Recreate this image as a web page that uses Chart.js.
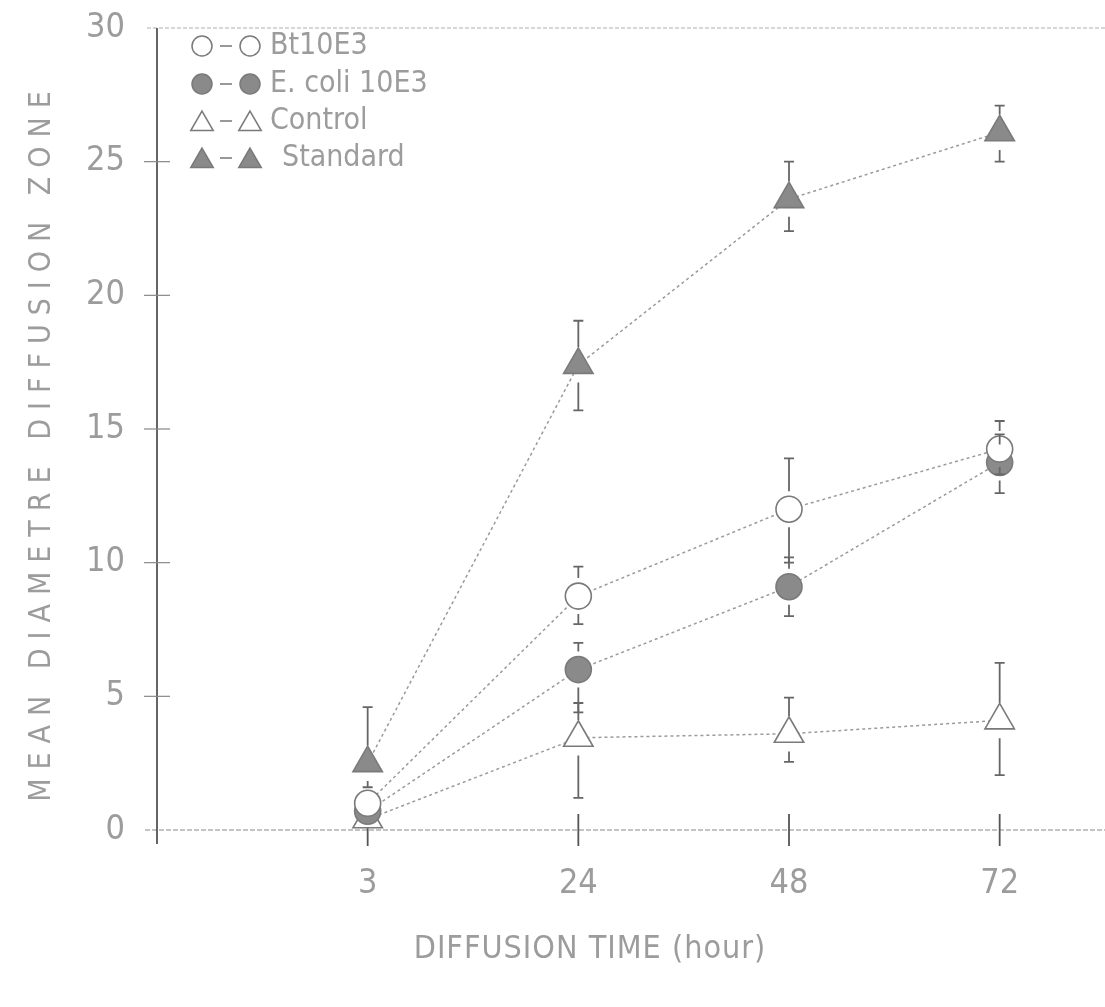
<!DOCTYPE html>
<html>
<head>
<meta charset="utf-8">
<script src="https://cdn.jsdelivr.net/npm/chart.js@4.4.1/dist/chart.umd.min.js"></script>
<style>
  html, body { margin: 0; padding: 0; background: #fff; }
  #wrap { width: 1105px; height: 1007px; }
</style>
</head>
<body>
<div id="wrap"><canvas id="diffusionChart" width="1105" height="1007"></canvas></div>
<script>
// diffusion times (hours), plotted at evenly spaced positions 1..4
const hours = ['3', '24', '48', '72'];
const positions = [1, 2, 3, 4];
const yTicks = [0, 5, 10, 15, 20, 25, 30];

// mean diameter of diffusion zone with error bar ends
const btMean = [1.0, 8.75, 12.0, 14.25];
const btLow = [0.5, 7.7, 10.0, 13.3];
const btHigh = [1.6, 9.85, 13.9, 15.3];

const ecoliMean = [0.7, 6.0, 9.1, 13.75];
const ecoliLow = [0.1, 4.4, 8.0, 12.6];
const ecoliHigh = [1.4, 7.0, 10.2, 14.8];

const controlMean = [0.4, 3.45, 3.6, 4.1];
const controlLow = [0.0, 1.2, 2.55, 2.05];
const controlHigh = [0.9, 4.75, 4.95, 6.25];

const standardMean = [2.5, 17.4, 23.6, 26.1];
const standardLow = [1.6, 15.7, 22.4, 25.0];
const standardHigh = [4.6, 19.05, 25.0, 27.1];

const FONT = "'Liberation Sans Narrow', 'DejaVu Sans Condensed', 'Liberation Sans', sans-serif";
const TEXT = '#9c9c9c';
const LINE = '#9a9a9a';
const MARK = '#7a7a7a';

function pts(values) {
    return values.map((v, i) => ({ x: positions[i], y: v }));
}

function makeSet(label, values, low, high, style, filled, radius) {
    return {
        label: label,
        data: pts(values),
        errLow: low,
        errHigh: high,
        filled: filled,
        borderColor: LINE,
        borderWidth: 1.5,
        borderDash: [3, 3],
        pointStyle: style,
        pointRadius: radius,
        pointBorderWidth: 1.6,
        pointBorderColor: MARK,
        pointBackgroundColor: filled ? '#8a8a8a' : '#ffffff',
        tension: 0
    };
}

const datasets = [
    makeSet('Bt10E3', btMean, btLow, btHigh, 'circle', false, 13),
    makeSet('E. coli 10E3', ecoliMean, ecoliLow, ecoliHigh, 'circle', true, 13),
    makeSet('Control', controlMean, controlLow, controlHigh, 'triangle', false, 17),
    makeSet('Standard', standardMean, standardLow, standardHigh, 'triangle', true, 17)
];

// axes, cross ticks, titles, legend and error bars
const decorations = {
    id: 'decorations',
    beforeDatasetsDraw(chart) {
        const ctx = chart.ctx;
        const xs = chart.scales.x, ys = chart.scales.y;
        const a = chart.chartArea;
        ctx.save();
        // top border
        ctx.strokeStyle = '#b0b0b0';
        ctx.lineWidth = 1.2;
        ctx.setLineDash([4, 2]);
        ctx.beginPath();
        ctx.moveTo(a.left - 10, a.top);
        ctx.lineTo(a.right, a.top);
        ctx.stroke();
        // x axis
        ctx.strokeStyle = '#8a8a8a';
        ctx.setLineDash([5, 2]);
        ctx.beginPath();
        ctx.moveTo(a.left - 12, a.bottom);
        ctx.lineTo(a.right, a.bottom);
        ctx.stroke();
        // y axis
        ctx.setLineDash([]);
        ctx.strokeStyle = '#555';
        ctx.lineWidth = 1.8;
        ctx.beginPath();
        ctx.moveTo(a.left, a.top);
        ctx.lineTo(a.left, a.bottom + 14);
        ctx.stroke();
        // y cross ticks
        ctx.lineWidth = 1.2;
        ctx.strokeStyle = '#888';
        yTicks.slice(1, -1).forEach(v => {
            const y = ys.getPixelForValue(v);
            ctx.beginPath();
            ctx.moveTo(a.left - 13, y);
            ctx.lineTo(a.left + 13, y);
            ctx.stroke();
        });
        // x cross ticks
        ctx.strokeStyle = '#555';
        ctx.lineWidth = 1.8;
        positions.forEach(p => {
            const x = xs.getPixelForValue(p);
            ctx.beginPath();
            ctx.moveTo(x, a.bottom - 16);
            ctx.lineTo(x, a.bottom + 16);
            ctx.stroke();
        });

        // axis titles
        ctx.fillStyle = TEXT;
        ctx.textAlign = 'center';
        ctx.textBaseline = 'middle';
        ctx.font = '300 32px ' + FONT;
        ctx.letterSpacing = '1px';
        ctx.fillText('DIFFUSION TIME (hour)', 590, 950);
        ctx.translate(42, 442);
        ctx.rotate(-Math.PI / 2);
        ctx.font = '300 30px ' + FONT;
        ctx.letterSpacing = '9px';
        ctx.fillText('MEAN DIAMETRE DIFFUSION ZONE', 0, 0);
        ctx.restore();

        // legend
        ctx.save();
        const rowsY = [46, 84, 121, 158];
        datasets.forEach((ds, i) => {
            const y = rowsY[i];
            const tri = ds.pointStyle === 'triangle';
            const r = tri ? 13 : 10;
            const yy = tri ? y + 3 : y;
            ctx.strokeStyle = MARK;
            ctx.fillStyle = ds.pointBackgroundColor;
            ctx.lineWidth = 1.5;
            [202, 250].forEach(cx => {
                Chart.helpers.drawPoint(ctx, { pointStyle: ds.pointStyle, radius: r, rotation: 0, borderWidth: 1.5 }, cx, yy);
            });
            ctx.strokeStyle = '#999';
            ctx.lineWidth = 2;
            ctx.beginPath();
            ctx.moveTo(220, y);
            ctx.lineTo(232, y);
            ctx.stroke();
            ctx.fillStyle = TEXT;
            ctx.font = '300 30px ' + FONT;
            ctx.textAlign = 'left';
            ctx.textBaseline = 'middle';
            ctx.fillText(ds.label, i === 3 ? 282 : 270, y);
        });
        ctx.restore();
    },
    afterDatasetsDraw(chart) {
        const ctx = chart.ctx;
        const xs = chart.scales.x, ys = chart.scales.y;
        ctx.save();
        ctx.strokeStyle = '#666';
        ctx.lineWidth = 1.8;
        chart.data.datasets.forEach(ds => {
            const gap = ds.pointRadius * (ds.pointStyle === 'triangle' ? 0.75 : 1) + 5;
            ds.data.forEach((p, i) => {
                const x = xs.getPixelForValue(p.x);
                const yc = ys.getPixelForValue(p.y);
                const yh = ys.getPixelForValue(ds.errHigh[i]);
                const yl = ys.getPixelForValue(ds.errLow[i]);
                if (yc - yh > gap + 2) {
                    ctx.beginPath();
                    ctx.moveTo(x, yc - gap);
                    ctx.lineTo(x, yh);
                    ctx.moveTo(x - 5, yh);
                    ctx.lineTo(x + 5, yh);
                    ctx.stroke();
                }
                if (yl - yc > gap + 2) {
                    ctx.beginPath();
                    ctx.moveTo(x, yc + gap);
                    ctx.lineTo(x, yl);
                    ctx.moveTo(x - 5, yl);
                    ctx.lineTo(x + 5, yl);
                    ctx.stroke();
                }
            });
        });
        ctx.restore();
    }
};

new Chart(document.getElementById('diffusionChart'), {
    type: 'line',
    data: { datasets: datasets },
    options: {
        responsive: false,
        devicePixelRatio: 1,
        animation: false,
        layout: { autoPadding: false, padding: { top: 28, right: 0, left: 0, bottom: 0 } },
        plugins: { legend: { display: false }, tooltip: { enabled: false } },
        scales: {
            x: {
                type: 'linear',
                min: 0,
                max: 4.5,
                grid: { display: false },
                border: { display: false },
                afterBuildTicks: (scale) => { scale.ticks = positions.map(v => ({ value: v })); },
                afterFit: (scale) => { scale.height = 177; scale.paddingLeft = 0; scale.paddingRight = 0; },
                ticks: {
                    autoSkip: false,
                    maxRotation: 0,
                    padding: 26,
                    color: TEXT,
                    font: { family: FONT, size: 34, weight: '300' },
                    callback: (v) => hours[positions.indexOf(v)]
                }
            },
            y: {
                min: 0,
                max: 30,
                grid: { display: false },
                border: { display: false },
                afterBuildTicks: (scale) => { scale.ticks = yTicks.map(v => ({ value: v })); },
                afterFit: (scale) => { scale.width = 157; scale.paddingTop = 0; scale.paddingBottom = 0; },
                ticks: {
                    padding: 24,
                    color: TEXT,
                    font: { family: FONT, size: 34, weight: '300' }
                }
            }
        }
    },
    plugins: [decorations]
});
</script>
</body>
</html>
